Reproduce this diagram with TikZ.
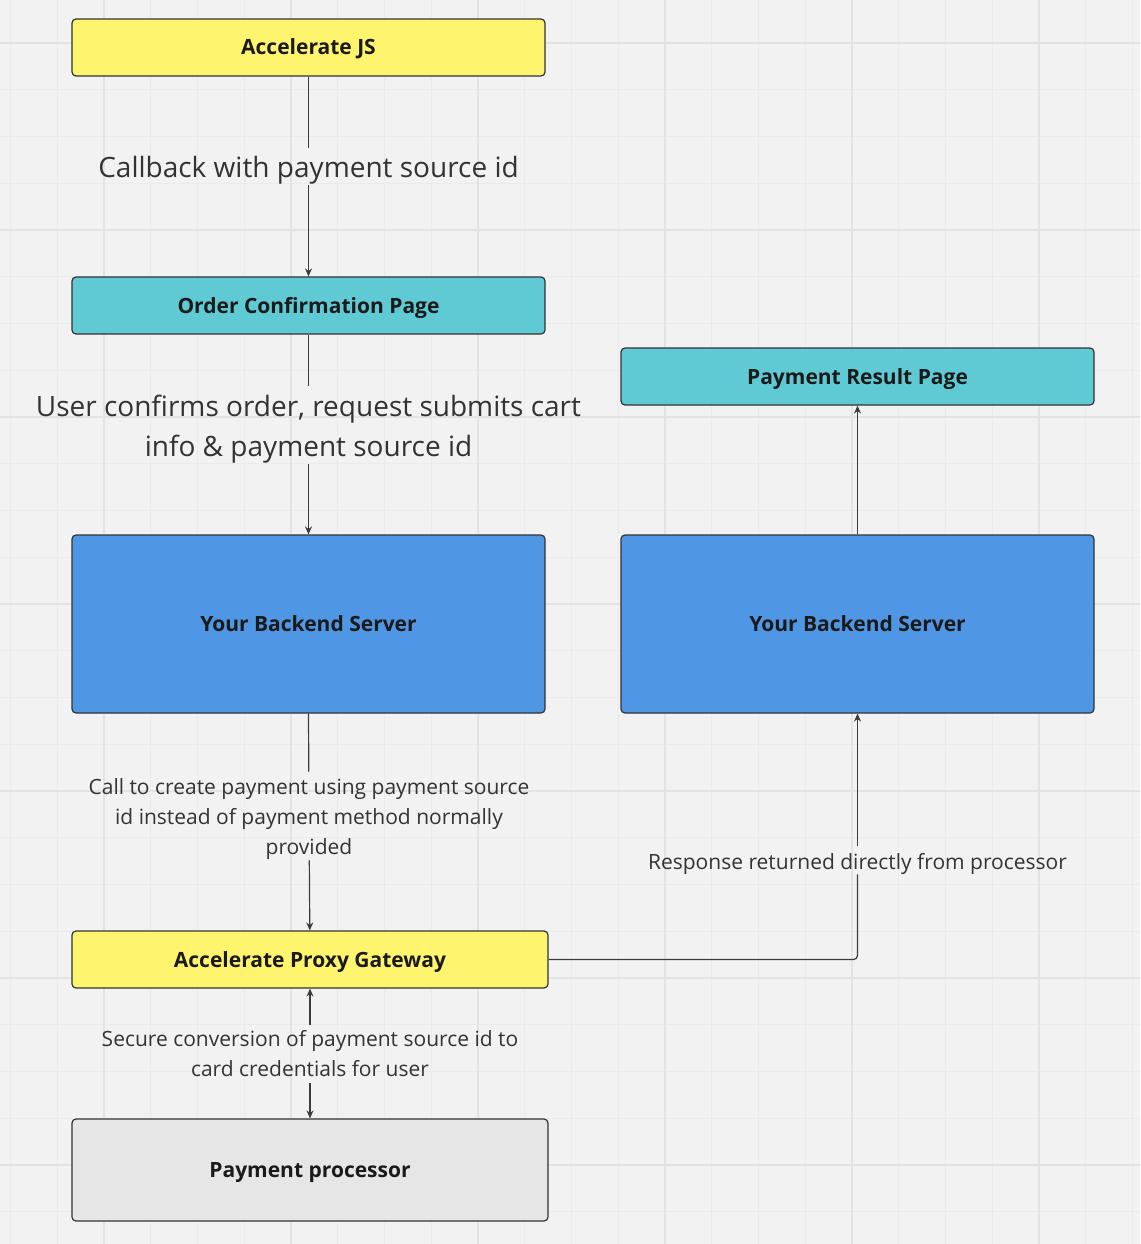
\documentclass[tikz,border=0pt]{standalone}
\usepackage{fontspec}
\setmainfont{Open Sans}
\usetikzlibrary{arrows.meta}
\definecolor{bg}{HTML}{F2F2F2}
\definecolor{gridminor}{HTML}{EBEBEB}
\definecolor{gridmajor}{HTML}{E3E3E3}
\definecolor{ylw}{HTML}{FFF46E}
\definecolor{cyn}{HTML}{5FCAD3}
\definecolor{blu}{HTML}{4F97E5}
\definecolor{gry}{HTML}{E6E6E6}
\definecolor{edge}{HTML}{333333}
\definecolor{conn}{HTML}{3C3C3C}
\definecolor{lbltext}{HTML}{333333}
\definecolor{boxtext}{HTML}{1A1A1A}
\tikzset{
  box/.style={draw=edge, line width=1.2pt, rounded corners=4pt, text=boxtext,
    font=\bfseries\fontsize{21}{25}\selectfont, align=center, inner sep=0pt,
    text height=15pt, text depth=0pt},
  biglbl/.style={text=lbltext, font=\fontsize{28}{40}\selectfont, align=center,
    inner sep=0pt, anchor=north},
  smalllbl/.style={text=lbltext, font=\fontsize{21}{30}\selectfont, align=center,
    inner sep=0pt, anchor=north},
  conline/.style={draw=conn, line width=1.2pt},
  arr/.style={conline, -{Stealth[length=8pt,width=7pt]}},
  minorline/.style={draw=gridminor, line width=1.3pt},
  majorline/.style={draw=gridmajor, line width=1.6pt}
}
\begin{document}
\begin{tikzpicture}[x=1pt,y=-1pt]
\fill[bg] (0,0) rectangle (1140,1244);
\useasboundingbox (0,0) rectangle (1140,1244);
% grid
\foreach \i in {0,...,24} { \draw[minorline] ({10.5+46.75*\i},0) -- ++(0,1244); }
\foreach \j in {1,...,26} { \draw[minorline] (0,{-3.75+46.75*\j}) -- ++(1140,0); }
\foreach \i in {0,...,5} { \draw[majorline] ({104+187*\i},0) -- ++(0,1244); }
\foreach \j in {0,...,6} { \draw[majorline] (0,{43+187*\j}) -- ++(1140,0); }

% boxes
\node[box, fill=ylw, minimum width=473pt, minimum height=57pt] (js) at (308.5,47.5) {Accelerate JS};
\node[box, fill=cyn, minimum width=473pt, minimum height=57pt] (ocp) at (308.5,305.5) {Order Confirmation Page};
\node[box, fill=cyn, minimum width=473pt, minimum height=57pt] (prp) at (857.5,376.5) {Payment Result Page};
\node[box, fill=blu, minimum width=473pt, minimum height=178pt] (bs1) at (308.5,624) {Your Backend Server};
\node[box, fill=blu, minimum width=473pt, minimum height=178pt] (bs2) at (857.5,624) {Your Backend Server};
\node[box, fill=ylw, minimum width=476pt, minimum height=57pt] (apg) at (310,959.5) {Accelerate Proxy Gateway};
\node[box, fill=gry, minimum width=476pt, minimum height=102pt] (pp) at (310,1170) {Payment processor};

% labels (anchored at the top of the gap they leave in their connector)
\node[biglbl, text height=28.7pt, text depth=8pt] (l1) at (308.5,148.3) {Callback with payment source id};
\node[biglbl, text height=70pt, text depth=8pt] (l2) at (308.5,386) {User confirms order, request submits cart\\info \& payment source id};
\node[smalllbl, text height=82.3pt, text depth=6pt] (l3) at (309,771.7) {Call to create payment using payment source\\id instead of payment method normally\\provided};
\node[smalllbl, text height=51.7pt, text depth=6pt] (l4) at (310,1025) {Secure conversion of payment source id to\\card credentials for user};
\node[smalllbl, text height=23pt, text depth=5pt] (l5) at (857.5,846) {Response returned directly from processor};

% connectors
\draw[conline] (js.south) -- (l1.north);
\draw[arr] (l1.south) -- (ocp.north);
\draw[conline] (ocp.south) -- (l2.north);
\draw[arr] (l2.south) -- (bs1.north);
\draw[conline] (bs1.south) -- (l3);
\draw[arr] (l3) -- (apg);
\draw[arr] (l4) -- (apg);
\draw[arr] (l4) -- (pp);
\draw[conline, rounded corners=4pt] (apg.east) -| (l5.south);
\draw[arr] (l5.north) -- (bs2.south);
\draw[arr] (bs2.north) -- (prp.south);
\end{tikzpicture}
\end{document}
